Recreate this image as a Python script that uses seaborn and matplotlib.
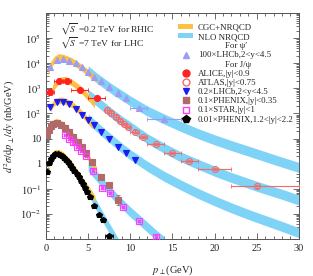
import numpy as np
import matplotlib
matplotlib.use('Agg')
import matplotlib.pyplot as plt
from matplotlib.lines import Line2D
from matplotlib.patches import Patch
import matplotlib.ticker as mticker
import seaborn as sns

sns.set_style('ticks')
plt.rcParams['font.family'] = ['Liberation Serif', 'DejaVu Serif']
plt.rcParams['mathtext.fontset'] = 'stix'

ORANGE = '#fdc040'
CYAN = '#7fd3f7'

# ---- data points (log10 of d2sigma/dpT/dy in nb/GeV) ----
psi2s_x = [0.5, 1.25, 2.0, 2.75, 3.5, 4.25, 5.0, 5.75, 6.5, 7.5, 8.5, 9.5, 11, 14]
psi2s_log = [3.85, 4.12, 4.17, 4.1, 4.0, 3.85, 3.65, 3.45, 3.28, 3.05, 2.82, 2.6, 2.22, 1.78]
psi2s_xerr = [0, 0, 0, 0, 0, 0, 0, 0, 0, 0, 0, 0, 1, 2]

alice_x = [0.5, 1.5, 2.5, 4, 6]
alice_log = [2.85, 3.29, 3.29, 2.93, 2.62]
alice_xerr = [0.5, 0.5, 0.5, 1, 1]
alice_rel = [0.35, 0.12, 0.12, 0.12, 0.12]

atlas_x = [7.25, 7.75, 8.25, 8.75, 9.25, 9.75, 10.5, 11.5, 13, 15, 17, 20, 25]
atlas_log = [2.15, 2.0, 1.85, 1.7, 1.58, 1.45, 1.28, 1.07, 0.78, 0.42, 0.1, -0.21, -0.9]
atlas_xlo = [0.25, 0.25, 0.25, 0.25, 0.25, 0.25, 0.5, 0.5, 1, 1, 1, 2, 3]
atlas_xhi = [0.25, 0.25, 0.25, 0.25, 0.25, 0.25, 0.5, 0.5, 1, 1, 1, 2, 5]
atlas_rel = [0.3, 0.25, 0.2, 0.15, 0.12, 0.12, 0.12, 0.12, 0.12, 0.12, 0.12, 0.12, 0.12]

lhcb_x = [0.5, 1.25, 2.0, 2.75, 3.5, 4.25, 5.0, 5.75, 6.5, 7.5, 8.5, 9.5, 10.5]
lhcb_log = [2.25, 2.45, 2.45, 2.38, 2.18, 1.95, 1.75, 1.52, 1.25, 0.98, 0.68, 0.42, 0.16]

phx_x = [0.125, 0.375, 0.625, 0.875, 1.25, 1.75, 2.25, 2.75, 3.25, 3.75, 4.25, 4.75, 5.5, 6.5, 7.5, 8.5]
phx_log = [1.15, 1.35, 1.5, 1.58, 1.6, 1.55, 1.42, 1.27, 1.08, 0.88, 0.66, 0.42, 0.05, -0.53, -0.85, -1.45]
phx_rel = [0.1] * 12 + [0.15, 0.2, 0.25, 0.55]

star_x = [2.2, 2.7, 3.2, 3.7, 4.2, 4.7, 5.6, 6.6, 7.6, 9.1, 11.0, 13.0]
star_log = [1.15, 1.0, 0.85, 0.68, 0.5, 0.3, -0.28, -0.95, -1.17, -1.73, -2.29, -2.9]

phxf_x = [0.125, 0.375, 0.625, 0.875, 1.125, 1.375, 1.625, 1.875, 2.125, 2.375, 2.625, 2.875,
          3.125, 3.375, 3.625, 3.875, 4.125, 4.375, 4.625, 4.875, 5.25, 5.75, 6.25, 6.75, 7.5]
phxf_log = [-0.33, 0.02, 0.2, 0.3, 0.38, 0.4, 0.36, 0.3, 0.22, 0.14, 0.05, -0.06,
            -0.18, -0.3, -0.42, -0.55, -0.68, -0.82, -0.97, -1.12, -1.33, -1.7, -2.05, -2.25, -2.88]
phxf_xerr = [0] * 24 + [0.5]

# ---- CGC+NRQCD bands (centre, log10) ----
cgc_half = 0.13
cgc_bands = [
    ([0.25, 0.5, 1, 1.5, 2, 3, 4, 5, 6], [3.65, 3.9, 4.15, 4.25, 4.23, 4.1, 3.88, 3.62, 3.35]),
    ([0.75, 1.5, 2.25, 3, 4, 5, 5.75], [3.0, 3.3, 3.35, 3.25, 3.0, 2.65, 2.35]),
    ([0.5, 1, 1.5, 2, 3, 4, 5, 5.5], [2.2, 2.45, 2.52, 2.52, 2.38, 2.08, 1.72, 1.52]),
    ([0.3, 0.75, 1.25, 2, 3, 4, 5, 6], [1.35, 1.6, 1.68, 1.55, 1.2, 0.75, 0.25, -0.25]),
    ([0.2, 0.5, 1, 1.5, 2, 3, 4, 5, 5.8], [-0.1, 0.2, 0.42, 0.45, 0.35, 0.0, -0.5, -1.0, -1.4]),
]

# ---- NLO NRQCD bands (centre, log10) ----
nlo_half = 0.2
nlo_bands = [
    ([5, 6, 7, 8, 9, 10, 12, 14, 16, 18, 20, 22, 24, 26, 28, 30],
     [3.7, 3.42, 3.17, 2.93, 2.72, 2.5, 2.1, 1.78, 1.48, 1.2, 0.95, 0.72, 0.5, 0.28, 0.06, -0.15]),
    ([5, 6, 7, 8, 9, 10, 12, 14, 16, 18, 20, 22, 25, 28, 30],
     [2.75, 2.5, 2.22, 1.95, 1.7, 1.47, 1.0, 0.62, 0.27, -0.02, -0.3, -0.55, -0.9, -1.22, -1.45]),
    ([5, 6, 7, 8, 9, 10, 12, 14, 16, 18, 20, 22, 24, 26, 28, 30],
     [1.78, 1.48, 1.18, 0.9, 0.62, 0.36, -0.1, -0.5, -0.85, -1.18, -1.48, -1.76, -2.02, -2.26, -2.5, -2.75]),
    ([5, 6, 7, 8, 9, 10, 11, 12, 13, 14],
     [-0.1, -0.5, -0.88, -1.25, -1.6, -1.92, -2.22, -2.52, -2.82, -3.1]),
    ([5, 6, 7, 8, 8.6], [-1.05, -1.68, -2.28, -2.85, -3.2]),
]

fig = plt.figure(figsize=(3.13, 2.76), dpi=100)
ax = fig.add_axes([0.147, 0.134, 0.808, 0.819])

for xs, c in nlo_bands:
    c = np.array(c)
    ax.fill_between(xs, 10 ** (c - nlo_half), 10 ** (c + nlo_half), color=CYAN, lw=0, zorder=1)
for xs, c in cgc_bands:
    c = np.array(c)
    ax.fill_between(xs, 10 ** (c - cgc_half), 10 ** (c + cgc_half), color=ORANGE, lw=0, zorder=2)

ms = 4.3


def pts(x, lg, color, marker, xerr=None, rel=None, mfc=None, ecolor=None, ms=ms):
    y = 10 ** np.array(lg)
    yerr = None
    if rel is not None:
        r = np.array(rel)
        yerr = [y - y / (1 + r), y * r]
    ax.errorbar(x, y, xerr=xerr, yerr=yerr, fmt='none', ecolor=ecolor or color,
                elinewidth=0.8, capsize=1.2, capthick=0.6, zorder=3)
    ax.plot(x, y, ls='none', marker=marker, ms=ms, color=color,
            mfc=mfc if mfc is not None else color, mew=0.8, zorder=4)


pts(psi2s_x, psi2s_log, '#9c9cf5', '^', xerr=psi2s_xerr)
pts(alice_x, alice_log, '#ff2222', 'o', xerr=alice_xerr, rel=alice_rel)
pts(atlas_x, atlas_log, '#f46a6a', 'o', xerr=[atlas_xlo, atlas_xhi], rel=atlas_rel, mfc='none')
pts(lhcb_x, lhcb_log, '#1c1cf5', 'v')
pts(phx_x, phx_log, '#b06a6a', 's', rel=phx_rel)
pts(star_x, star_log, '#ff3cff', 's', xerr=0.12, rel=[0.12] * len(star_x), mfc='none', ms=4.0)
pts(phxf_x, phxf_log, 'black', 'p', xerr=phxf_xerr)

ax.set_yscale('log')
ax.set_xlim(0, 30)
ax.set_ylim(1e-3, 1e6)
ax.xaxis.set_major_locator(mticker.MultipleLocator(5))
ax.xaxis.set_minor_locator(mticker.MultipleLocator(1))
ax.yaxis.set_major_locator(mticker.FixedLocator([1e-3, 1e-2, 1e-1, 1, 10, 1e2, 1e3, 1e4, 1e5, 1e6]))
ax.yaxis.set_minor_locator(mticker.LogLocator(base=10, subs=np.arange(2, 10), numticks=20))
ax.yaxis.set_minor_formatter(mticker.NullFormatter())


def yfmt(v, pos):
    e = int(round(np.log10(v)))
    if e in (-3, 6):
        return ''
    if e == 0:
        return '1'
    if e == 1:
        return '10'
    return r'$10^{%d}$' % e


ax.yaxis.set_major_formatter(mticker.FuncFormatter(yfmt))
ax.tick_params(which='both', direction='in', top=True, right=True, labelsize=7.5, width=0.6, color='#555555')
ax.tick_params(which='major', length=4)
ax.tick_params(which='minor', length=2)
for s in ax.spines.values():
    s.set_linewidth(0.7)
    s.set_color('#555555')

ax.set_xlabel(r'$p_\perp$(GeV)', fontsize=7.5, labelpad=8)
ax.set_ylabel(r'$d^2\sigma/\mathrm{d}p_\perp/dy$ (nb/GeV)', fontsize=7.5, labelpad=2)

ax.text(0.055, 0.928, r'$\sqrt{S}$ =0.2 TeV for RHIC', transform=ax.transAxes, fontsize=6.8, va='center')
ax.text(0.055, 0.865, r'$\sqrt{S}$ =7 TeV for LHC', transform=ax.transAxes, fontsize=6.8, va='center')

blank = Line2D([], [], ls='none', marker=None)
handles = [
    Patch(color=ORANGE, lw=0),
    Patch(color=CYAN, lw=0),
    blank,
    Line2D([], [], ls='none', marker='^', ms=5, color='#9c9cf5'),
    blank,
    Line2D([], [], ls='none', marker='o', ms=5, color='#ff2222'),
    Line2D([], [], ls='none', marker='o', ms=5, color='#f46a6a', mfc='none'),
    Line2D([], [], ls='none', marker='v', ms=5, color='#1c1cf5'),
    Line2D([], [], ls='none', marker='s', ms=5, color='#b06a6a'),
    Line2D([], [], ls='none', marker='s', ms=5, color='#ff3cff', mfc='none'),
    Line2D([], [], ls='none', marker='p', ms=5.5, color='black'),
]
labels = [
    'CGC+NRQCD',
    'NLO NRQCD',
    '            For ψ′',
    '100×LHCb,2<y<4.5',
    '            For J/ψ',
    'ALICE,|y|<0.9',
    'ATLAS,|y|<0.75',
    '0.2×LHCb,2<y<4.5',
    '0.1×PHENIX,|y|<0.35',
    '0.1×STAR,|y|<1',
    '0.01×PHENIX,1.2<|y|<2.2',
]
leg = ax.legend(handles, labels, loc='upper right', bbox_to_anchor=(1.0, 0.975), frameon=False,
                fontsize=6.4, handlelength=1.7, handleheight=0.5, labelspacing=0.13,
                handletextpad=0.5, borderaxespad=0.2)

fig.savefig('out.png', dpi=100)
